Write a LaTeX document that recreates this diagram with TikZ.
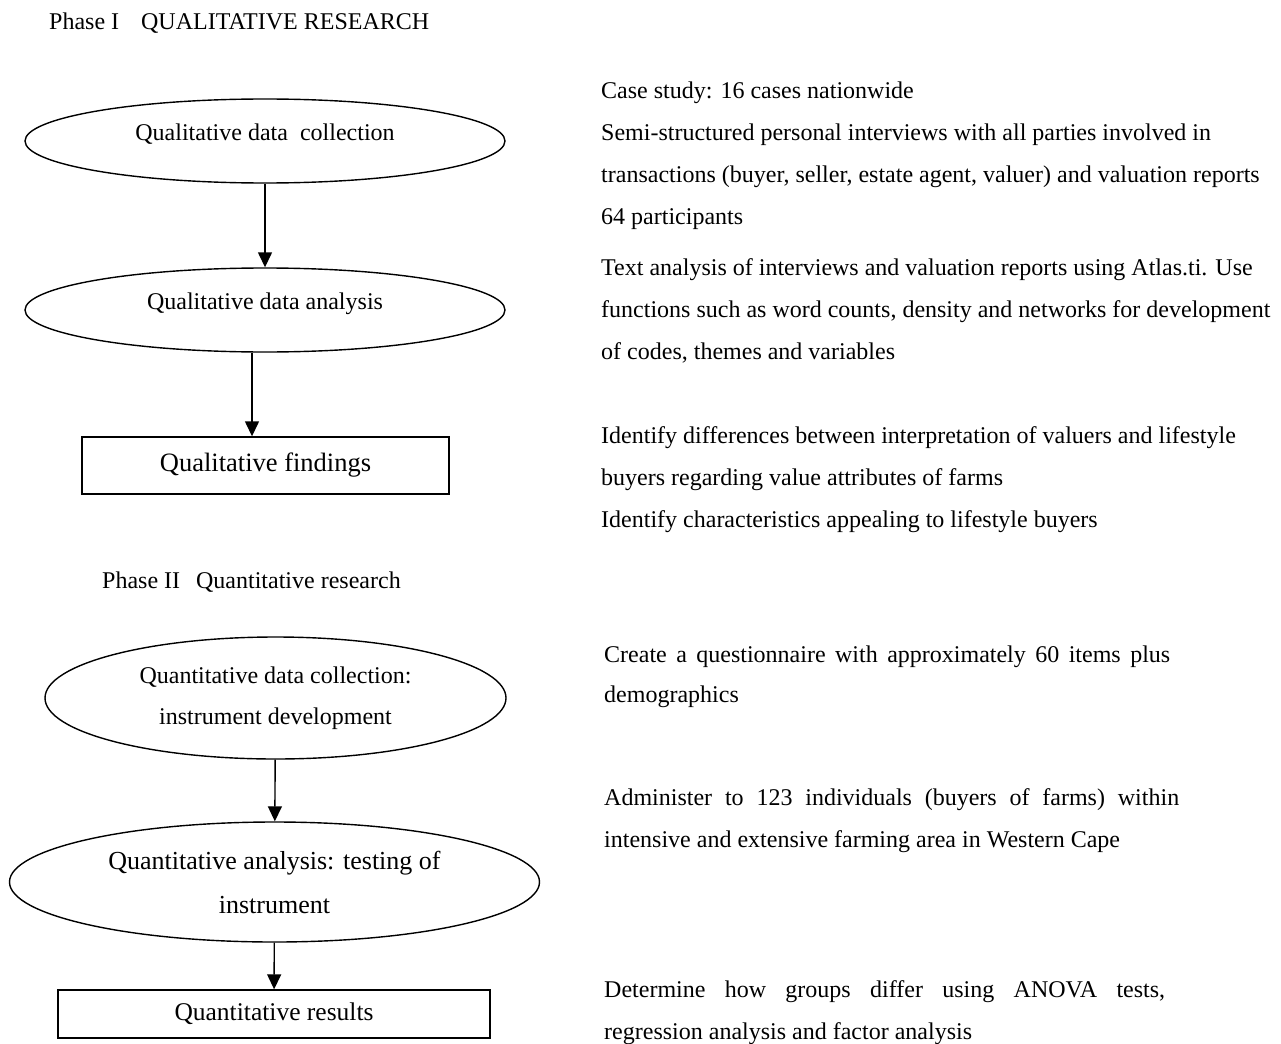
\documentclass[tikz,border=0pt]{standalone}
\usepackage{fontspec}
\setmainfont{Liberation Serif}
\usetikzlibrary{shapes.geometric,arrows.meta}
\newcommand{\textSize}[0]{\fontsize{24}{41.7}\selectfont}
\newcommand{\stageSize}[0]{\fontsize{24}{41}\selectfont}
\newcommand{\bigSize}[0]{\fontsize{26}{44}\selectfont}
\newcommand{\lineWidth}[0]{1.4pt}

\begin{document}
\begin{tikzpicture}[x=1pt, y=-1pt]
  \tikzset{every node/.style={inner sep=0pt, font=\textSize},
    stage/.style={ellipse, draw, line width=\lineWidth, align=center, font=\stageSize},
    result/.style={rectangle, draw, line width=\lineWidth, align=center},
    note/.style={anchor=base west, align=left},
    flow/.style={-{Triangle[length=15pt,width=14pt]}, line width=\lineWidth}}
  \useasboundingbox (0,0) rectangle (1281,1043);

  % Phase I
  \node[anchor=base west] (phase-1) at (49,30) {Phase I\hspace{22pt}QUALITATIVE RESEARCH};
  \node[stage, minimum width=480pt, minimum height=84pt, text depth=18pt] (QL-1) at (265,141) {Qualitative data\ \ collection};
  \node[stage, minimum width=480pt, minimum height=84pt, text depth=18pt] (QL-2) at (265,310) {Qualitative data analysis};
  \node[result, minimum width=367pt, minimum height=57pt, font=\fontsize{26.5}{30}\selectfont] (QL-3) at (265.5,465.5) {Qualitative findings};
  \coordinate (QL-2-out) at ([xshift=-13pt]QL-2.south);
  \draw[flow] (QL-1) -- (QL-2);
  \draw[flow] (QL-2-out) -- (QL-2-out |- QL-3.north);

  % notes: base is the last line
  \node[note] (note-1-1) at (601,224) {Case study: 16 cases nationwide\\
    Semi-structured personal interviews with all parties involved in\\
    transactions (buyer, seller, estate agent, valuer) and valuation reports\\
    64 participants};
  \node[note] (note-1-2) at (601,359) {Text analysis of interviews and valuation reports using Atlas.ti. Use\\
    functions such as word counts, density and networks for development\\
    of codes, themes and variables};
  \node[note] (note-1-3) at (601,527) {Identify differences between interpretation of valuers and lifestyle\\
    buyers regarding value attributes of farms\\
    Identify characteristics appealing to lifestyle buyers};

  % Phase II
  \node[anchor=base west] (phase-2) at (102,588) {Phase II\hspace{16pt}Quantitative research};
  \node[stage, minimum width=461pt, minimum height=122pt] (QN-1) at (275.5,698) {Quantitative data collection:\\instrument development};
  \node[stage, minimum width=530pt, minimum height=120pt, font=\bigSize] (QN-2) at (274.5,882) {Quantitative analysis: testing of\\instrument};
  \node[result, minimum width=432pt, minimum height=48pt, font=\fontsize{25.5}{30}\selectfont] (QN-3) at (274,1014) {Quantitative results};
  \draw[flow] (QN-1) -- (QN-2);
  \draw[flow] (QN-2) -- (QN-3);

  \node[note] (note-2-1) at (604,702) {\makebox[566pt][s]{Create a questionnaire with approximately 60 items plus}\\[-1.7pt]
    demographics};
  \node[note] (note-2-2) at (604,847) {\makebox[575pt][s]{Administer to 123 individuals (buyers of farms) within}\\
    intensive and extensive farming area in Western Cape};
  \node[note] (note-2-3) at (604,1039) {\makebox[561pt][s]{Determine how groups differ using ANOVA tests,}\\
    regression analysis and factor analysis};
\end{tikzpicture}
\end{document}
